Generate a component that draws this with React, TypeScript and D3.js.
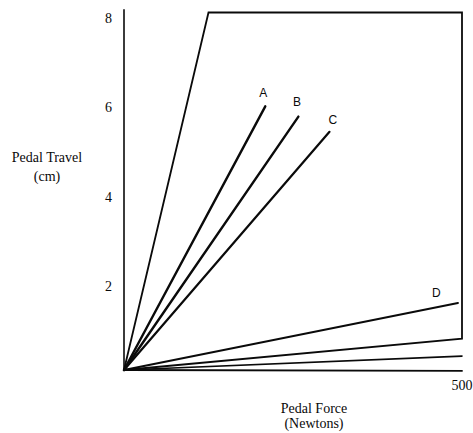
import { line, scaleLinear } from "d3";

const WIDTH = 473;
const HEIGHT = 433;

// pedal force (N) / pedal travel (cm)
const yTicks = [2, 4, 6, 8];
const xTickLabel = { value: 500, text: "500" };

const envelope = [
  { force: 0, travel: 0 },
  { force: 125, travel: 8 },
  { force: 500, travel: 8 },
  { force: 500, travel: 0.7 },
  { force: 0, travel: 0 },
];

const seriesNames = ["A", "B", "C", "D", ""];
const seriesEnds = [
  { force: 209, travel: 5.9 },
  { force: 258, travel: 5.67 },
  { force: 304, travel: 5.33 },
  { force: 494, travel: 1.5 },
  { force: 500, travel: 0.31 },
];
const seriesWidths = [2.4, 2.4, 2.2, 2, 1.6];

const labelPos = [
  { force: 206, travel: 6.2 },
  { force: 256, travel: 6.0 },
  { force: 309, travel: 5.6 },
  { force: 462, travel: 1.72 },
];

export default function App() {
  const x = scaleLinear().domain([0, 500]).range([124, 462]);
  const y = scaleLinear().domain([0, 8]).range([370, 12.5]);

  const path = line<{ force: number; travel: number }>()
    .x((d) => x(d.force))
    .y((d) => y(d.travel));

  const ink = "#0a0a0a";

  return (
    <div style={{ position: "absolute", left: 0, top: 0 }}>
      <svg width={WIDTH} height={HEIGHT} viewBox={`0 0 ${WIDTH} ${HEIGHT}`}>
        <rect width={WIDTH} height={HEIGHT} fill="#fff" />
        {/* axes */}
        <line x1={x(0)} x2={x(0)} y1={y(0)} y2={y(8.07)} stroke={ink} strokeWidth={1.6} />
        <line x1={x(0)} x2={x(501)} y1={y(0)} y2={y(-0.02)} stroke={ink} strokeWidth={1.8} />

        <g fontFamily="'Liberation Serif', serif" fontSize={14} fill={ink}>
          {yTicks.map((t) => (
            <text key={t} x={112} y={y(t) + 6} textAnchor="end" dominantBaseline="central">
              {t}
            </text>
          ))}
          <text x={x(xTickLabel.value)} y={390} textAnchor="middle">
            {xTickLabel.text}
          </text>
          <text x={47} y={162} textAnchor="middle">Pedal Travel</text>
          <text x={47} y={181} textAnchor="middle">(cm)</text>
          <text x={314} y={413} textAnchor="middle">Pedal Force</text>
          <text x={314} y={428} textAnchor="middle">(Newtons)</text>
        </g>

        <path d={path(envelope) ?? ""} fill="none" stroke={ink} strokeWidth={1.8} strokeLinejoin="miter" />

        {seriesEnds.map((end, i) => (
          <path
            key={i}
            d={path([{ force: 0, travel: 0 }, end]) ?? ""}
            fill="none"
            stroke={ink}
            strokeWidth={seriesWidths[i]}
            strokeLinecap="round"
          />
        ))}

        <g fontFamily="'Liberation Sans', Arial, sans-serif" fontSize={12} fill={ink}>
          {labelPos.map((p, i) => (
            <text key={i} x={x(p.force)} y={y(p.travel)} textAnchor="middle" dominantBaseline="central">
              {seriesNames[i]}
            </text>
          ))}
        </g>
      </svg>
    </div>
  );
}
